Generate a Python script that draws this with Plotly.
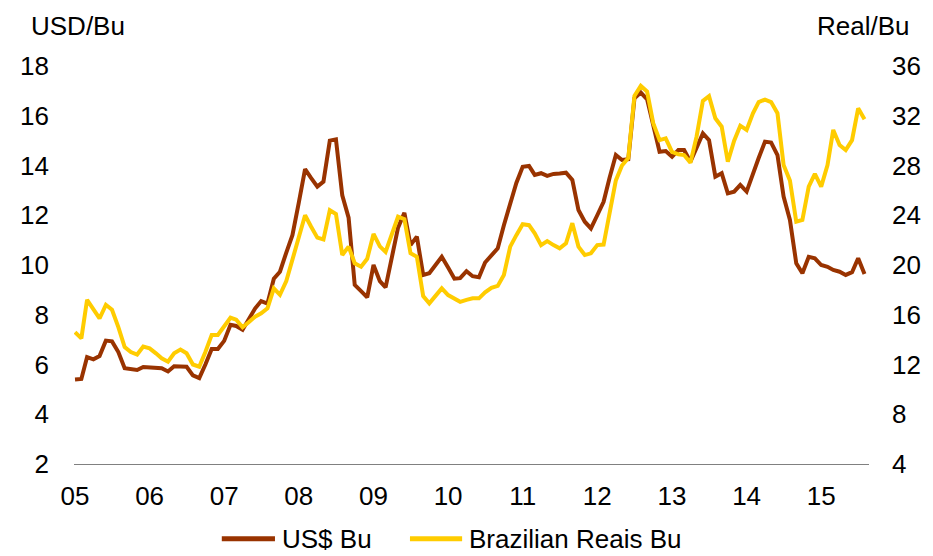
import pandas as pd
import plotly.graph_objects as go

months = pd.date_range("2005-01-01", periods=128, freq="MS")

usd_bu = [
    5.40, 5.42, 6.30, 6.21, 6.34, 6.96, 6.93, 6.50, 5.85, 5.80, 5.78, 5.90,
    5.88, 5.87, 5.85, 5.72, 5.93, 5.92, 5.91, 5.56, 5.45, 6.00, 6.62, 6.62,
    6.95, 7.60, 7.55, 7.40, 7.80, 8.25, 8.55, 8.45, 9.45, 9.73, 10.50, 11.20,
    12.50, 13.85, 13.50, 13.15, 13.35, 15.00, 15.05, 12.80, 11.90, 9.20, 8.95, 8.70,
    10.00, 9.35, 9.10, 10.40, 11.50, 12.10, 10.80, 11.14, 9.60, 9.67, 10.00, 10.33,
    9.90, 9.45, 9.47, 9.75, 9.55, 9.51, 10.10, 10.40, 10.67, 11.60, 12.50, 13.30,
    13.95, 13.98, 13.62, 13.69, 13.58, 13.66, 13.68, 13.71, 13.42, 12.21, 11.74, 11.47,
    12.00, 12.54, 13.50, 14.42, 14.22, 14.25, 16.70, 16.93, 16.66, 15.56, 14.55, 14.58,
    14.35, 14.62, 14.62, 14.15, 14.69, 15.29, 15.02, 13.55, 13.69, 12.88, 12.95, 13.22,
    12.95, 13.69, 14.30, 14.96, 14.92, 14.42, 12.75, 11.81, 10.07, 9.67, 10.33, 10.27,
    10.00, 9.93, 9.80, 9.73, 9.60, 9.71, 10.27, 9.64,
]

brl_bu = [
    14.6, 14.1, 17.2, 16.4, 15.7, 16.8, 16.4, 15.0, 13.4, 13.0, 12.8, 13.44,
    13.3, 12.9, 12.5, 12.22, 12.9, 13.2, 12.9, 12.0, 11.82, 13.0, 14.38, 14.38,
    15.1, 15.76, 15.6, 15.0, 15.4, 15.84, 16.12, 16.52, 18.12, 17.6, 18.7, 20.4,
    22.2, 24.0, 23.1, 22.2, 22.06, 24.4, 24.1, 20.8, 21.48, 20.14, 19.86, 20.5,
    22.5, 21.5, 21.06, 22.4, 23.88, 23.68, 20.94, 20.66, 17.5, 16.92, 17.5, 18.12,
    17.58, 17.3, 17.04, 17.2, 17.32, 17.32, 17.8, 18.16, 18.32, 19.2, 21.48, 22.4,
    23.28, 23.2, 22.54, 21.6, 21.92, 21.6, 21.34, 21.74, 23.36, 21.48, 20.8, 20.94,
    21.6, 21.64, 24.0, 26.8, 28.0, 28.6, 33.6, 34.4, 33.94, 31.4, 30.04, 30.18,
    29.1, 28.9, 28.84, 28.22, 30.32, 33.2, 33.58, 31.8, 31.12, 28.3, 30.0, 31.2,
    30.86, 32.2, 33.1, 33.3, 33.1, 32.2, 28.04, 26.8, 23.48, 23.62, 26.3, 27.32,
    26.3, 28.04, 30.86, 29.64, 29.24, 30.04, 32.6, 31.72,
]

year_ticks = pd.date_range("2005-01-01", "2015-01-01", freq="YS")
year_labels = ["05", "06", "07", "08", "09", "10", "11", "12", "13", "14", "15"]

series_names = ["US$ Bu", "Brazilian Reais Bu"]
BROWN = "#993300"
YELLOW = "#FFCC00"
FONT = "Liberation Sans, Arial, sans-serif"
FS = 26

fig = go.Figure()
fig.add_trace(go.Scatter(x=months, y=brl_bu, mode="lines", name=series_names[1],
                         line=dict(color=YELLOW, width=4), yaxis="y2", showlegend=False))
fig.add_trace(go.Scatter(x=months, y=usd_bu, mode="lines", name=series_names[0],
                         line=dict(color=BROWN, width=4), showlegend=False))

# page has an 8px body margin, so the figure is 8px smaller than the window
fig.update_layout(
    width=925, height=548,
    margin=dict(l=58, r=60, t=58, b=92),
    paper_bgcolor="white", plot_bgcolor="white",
    font=dict(family=FONT, size=FS, color="black"),
    xaxis=dict(
        type="date",
        range=["2004-12-27", "2015-08-23"],
        tickvals=list(year_ticks), ticktext=year_labels,
        showgrid=False, zeroline=False,
        showline=True, linecolor="#808080", linewidth=1,
        ticks="", ticklabelstandoff=9,
        tickfont=dict(size=FS),
    ),
    yaxis=dict(
        range=[2, 18], dtick=2, tick0=2,
        showgrid=False, zeroline=False, showline=False,
        ticks="", ticklabelstandoff=24,
        tickfont=dict(size=FS),
    ),
    yaxis2=dict(
        range=[4, 36], dtick=4, tick0=4,
        overlaying="y", side="right",
        showgrid=False, zeroline=False, showline=False,
        ticks="", ticklabelstandoff=22,
        tickfont=dict(size=FS),
    ),
)

# axis titles
fig.add_annotation(text="USD/Bu", xref="paper", yref="paper", x=-0.057, y=1.10,
                   xanchor="left", yanchor="middle", showarrow=False,
                   font=dict(size=FS))
fig.add_annotation(text="Real/Bu", xref="paper", yref="paper", x=1.0545, y=1.10,
                   xanchor="right", yanchor="middle", showarrow=False,
                   font=dict(size=FS))

# legend (drawn manually to match long legend keys)
leg_y = -0.188
fig.add_shape(type="line", xref="paper", yref="paper", x0=0.1859, x1=0.2528,
              y0=leg_y, y1=leg_y, line=dict(color=BROWN, width=5))
fig.add_annotation(text=series_names[0], xref="paper", yref="paper", x=0.259, y=leg_y,
                   xanchor="left", yanchor="middle", showarrow=False, font=dict(size=FS))
fig.add_shape(type="line", xref="paper", yref="paper", x0=0.4226, x1=0.4882,
              y0=leg_y, y1=leg_y, line=dict(color=YELLOW, width=5))
fig.add_annotation(text=series_names[1], xref="paper", yref="paper", x=0.4944, y=leg_y,
                   xanchor="left", yanchor="middle", showarrow=False, font=dict(size=FS))

fig.write_html("out.html")
